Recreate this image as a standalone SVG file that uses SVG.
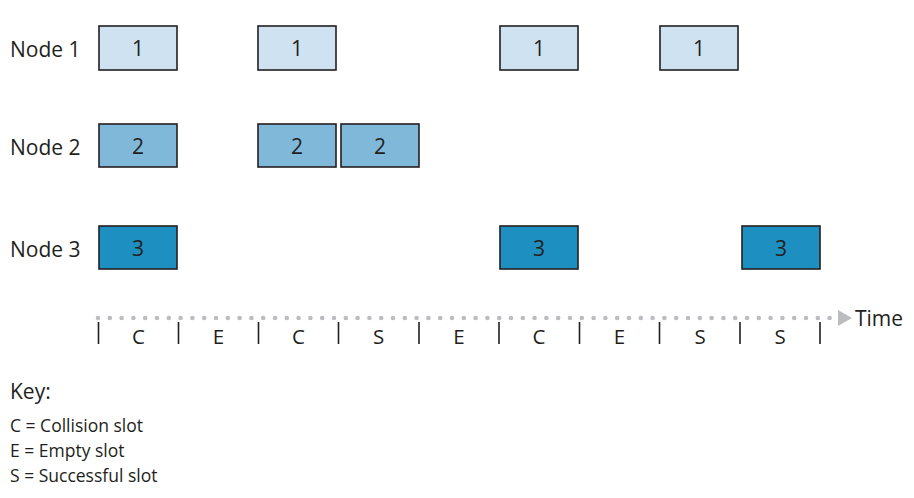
<svg xmlns="http://www.w3.org/2000/svg" width="914" height="498" viewBox="0 0 914 498">
<style>
text{font-family:"Open Sans","Noto Sans",sans-serif;fill:#231f20}
.lbl{font-size:21px}
.num{font-size:21px;text-anchor:middle}
.slot{font-size:20.5px;text-anchor:middle}
.key{font-size:17.5px}
.b{stroke:#231f20;stroke-width:1.6}
.n1{fill:#cfe2f1}.n2{fill:#80b8da}.n3{fill:#1e8fc1}
.tick{stroke:#231f20;stroke-width:1.6}
</style>
<rect width="914" height="498" fill="#fff"/>
<g id="labels">
<text class="lbl" x="10" y="57">Node 1</text>
<text class="lbl" x="10" y="155">Node 2</text>
<text class="lbl" x="10" y="257">Node 3</text>
</g>
<g id="node1">
<rect class="b n1" x="99" y="26" width="78" height="44"/><text class="num" x="138" y="56">1</text>
<rect class="b n1" x="258" y="26" width="78" height="44"/><text class="num" x="297" y="56">1</text>
<rect class="b n1" x="500" y="26" width="78" height="44"/><text class="num" x="539" y="56">1</text>
<rect class="b n1" x="660" y="26" width="78" height="44"/><text class="num" x="699" y="56">1</text>
</g>
<g id="node2">
<rect class="b n2" x="99" y="124" width="78" height="43"/><text class="num" x="138" y="154">2</text>
<rect class="b n2" x="258" y="124" width="78" height="43"/><text class="num" x="297" y="154">2</text>
<rect class="b n2" x="341" y="124" width="78" height="43"/><text class="num" x="380" y="154">2</text>
</g>
<g id="node3">
<rect class="b n3" x="99" y="226" width="78" height="43"/><text class="num" x="138" y="256">3</text>
<rect class="b n3" x="500" y="226" width="78" height="43"/><text class="num" x="539" y="256">3</text>
<rect class="b n3" x="742" y="226" width="78" height="43"/><text class="num" x="781" y="256">3</text>
</g>
<g id="timeline">
<line x1="98" y1="318" x2="834" y2="318" stroke="#bcbdc0" stroke-width="4.6" stroke-linecap="round" stroke-dasharray="0 11.8"/>
<polygon points="838,310 852,318 838,326" fill="#bcbdc0"/>
<text class="lbl" x="855" y="326">Time</text>
<g class="tick">
<line x1="98.5" y1="322" x2="98.5" y2="344"/>
<line x1="178.5" y1="322" x2="178.5" y2="344"/>
<line x1="258.5" y1="322" x2="258.5" y2="344"/>
<line x1="338.5" y1="322" x2="338.5" y2="344"/>
<line x1="419" y1="322" x2="419" y2="344"/>
<line x1="499" y1="322" x2="499" y2="344"/>
<line x1="579.5" y1="322" x2="579.5" y2="344"/>
<line x1="659.5" y1="322" x2="659.5" y2="344"/>
<line x1="740" y1="322" x2="740" y2="344"/>
<line x1="820" y1="322" x2="820" y2="344"/>
</g>
<text class="slot" x="138.5" y="344">C</text>
<text class="slot" x="218.5" y="344">E</text>
<text class="slot" x="298.5" y="344">C</text>
<text class="slot" x="378.5" y="344">S</text>
<text class="slot" x="459" y="344">E</text>
<text class="slot" x="539" y="344">C</text>
<text class="slot" x="619.5" y="344">E</text>
<text class="slot" x="700" y="344">S</text>
<text class="slot" x="780" y="344">S</text>
</g>
<g id="key">
<text class="lbl" x="10" y="399">Key:</text>
<text class="key" x="10" y="432">C = Collision slot</text>
<text class="key" x="10" y="457">E = Empty slot</text>
<text class="key" x="10" y="482">S = Successful slot</text>
</g>
</svg>
